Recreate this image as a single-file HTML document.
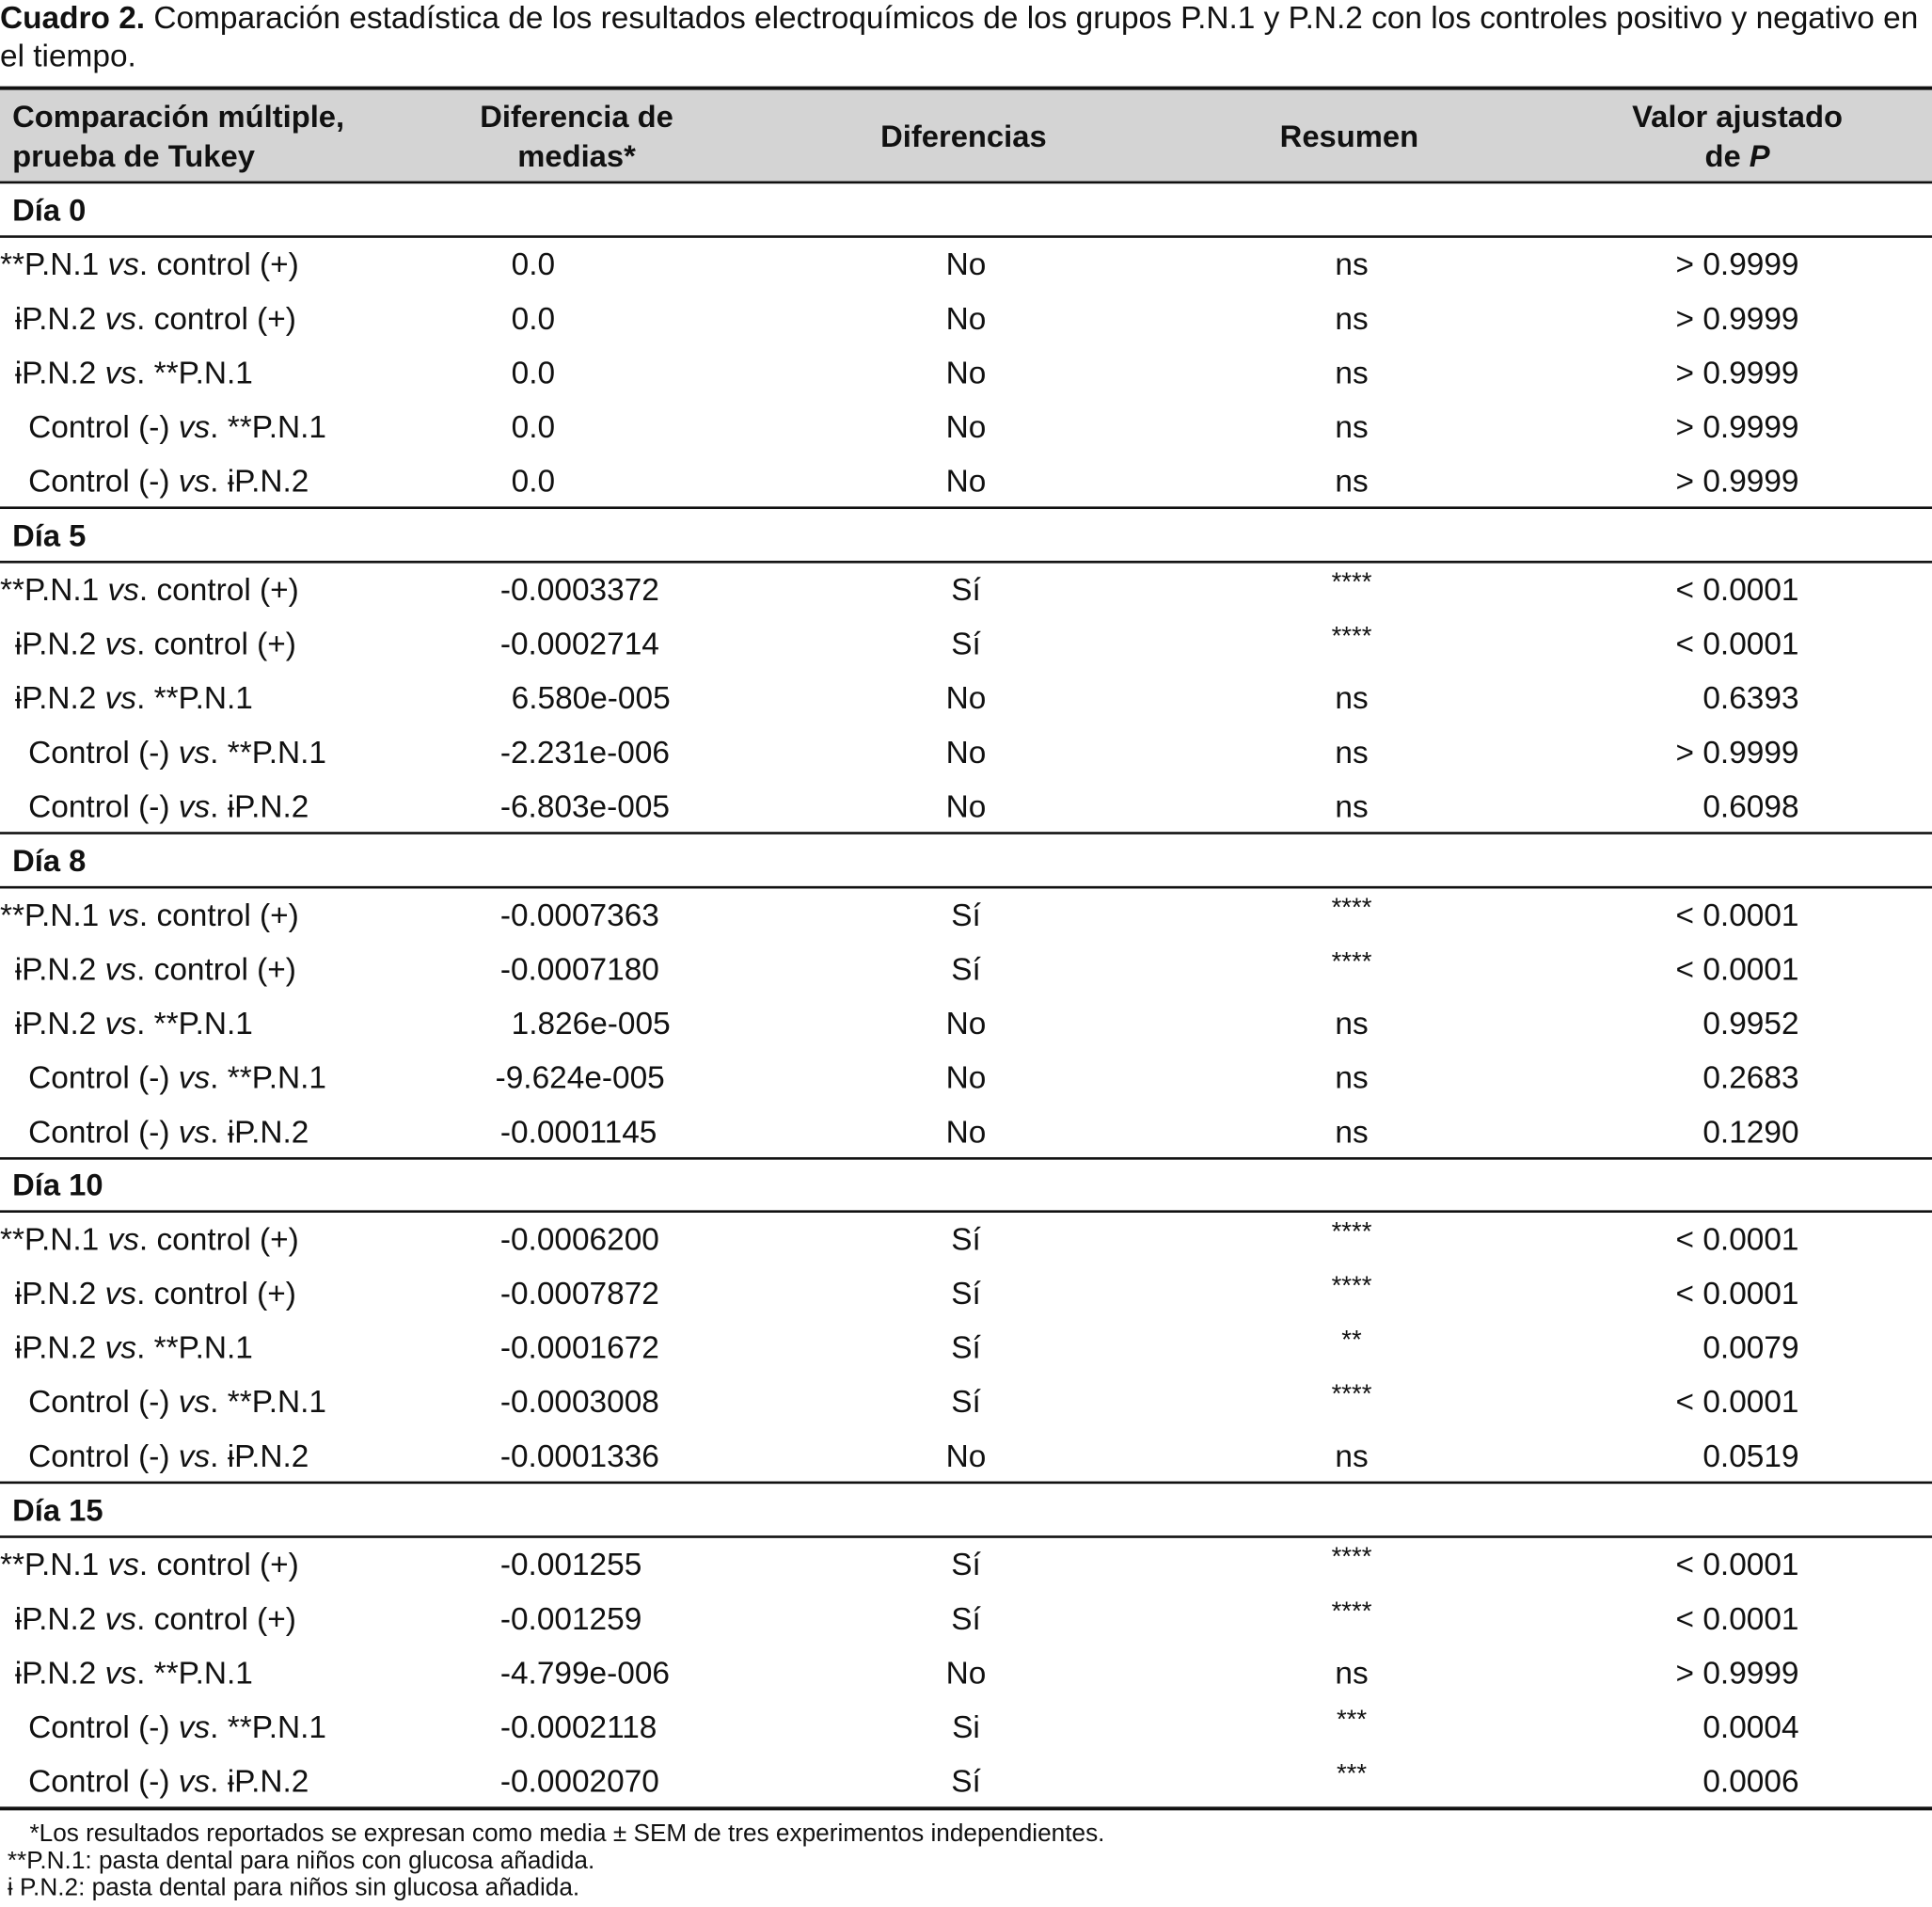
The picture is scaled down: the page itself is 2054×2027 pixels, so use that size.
<!DOCTYPE html>
<html><head><meta charset="utf-8"><style>
html,body{margin:0;padding:0;background:#fff;}
body{width:2054px;height:2026px;overflow:hidden;position:relative;}
#w{position:absolute;left:0;top:0;width:1568px;height:1547px;transform:scale(1.30995);transform-origin:0 0;font-family:"Liberation Sans",Arial,sans-serif;font-size:25.5px;color:#111;}
.t{position:absolute;line-height:30px;white-space:nowrap;}
.c{transform:translateX(-50%);text-align:center;}
.r{transform:translateX(-100%);}
.b{font-weight:bold;font-size:25px;}
.ln{position:absolute;left:0;width:1568px;background:#111;}
.f{font-size:20px;line-height:26px;}
</style></head><body><div id="w">
<div class="t" style="left:0;top:0px;font-size:25.5px"><b>Cuadro 2.</b> Comparación estadística de los resultados electroquímicos de los grupos P.N.1 y P.N.2 con los controles positivo y negativo en</div>
<div class="t" style="left:0;top:31px">el tiempo.</div>
<div style="position:absolute;left:0;top:72px;width:1568px;height:76px;background:#d4d4d4"></div>
<div class="ln" style="top:70px;height:3px"></div>
<div class="ln" style="top:147px;height:2px"></div>
<div class="t b" style="left:10px;top:80px">Comparación múltiple,</div>
<div class="t b" style="left:10px;top:112px">prueba de Tukey</div>
<div class="t b c" style="left:468px;top:80px">Diferencia de</div>
<div class="t b c" style="left:468px;top:112px">medias*</div>
<div class="t b c" style="left:782px;top:96px">Diferencias</div>
<div class="t b c" style="left:1095px;top:96px">Resumen</div>
<div class="t b c" style="left:1410px;top:80px">Valor ajustado</div>
<div class="t b c" style="left:1410px;top:112px">de <i>P</i></div>
<div id="rows"></div>
<div class="ln" style="top:1466px;height:3px"></div>
<div class="t f" style="left:24px;top:1475px">*Los resultados reportados se expresan como media ± SEM de tres experimentos independientes.</div>
<div class="t f" style="left:6px;top:1497px">**P.N.1: pasta dental para niños con glucosa añadida.</div>
<div class="t f" style="left:6px;top:1519px">ɨ P.N.2: pasta dental para niños sin glucosa añadida.</div>
</div>
<script>
var L=[["**P.N.1 <i>vs</i>. control (+)",0],["ɨP.N.2 <i>vs</i>. control (+)",12],["ɨP.N.2 <i>vs</i>. **P.N.1",12],["Control (-) <i>vs</i>. **P.N.1",23],["Control (-) <i>vs</i>. ɨP.N.2",23]];
var D=[["Día 0",171,[["0.0","No","ns","&gt; 0.9999"],["0.0","No","ns","&gt; 0.9999"],["0.0","No","ns","&gt; 0.9999"],["0.0","No","ns","&gt; 0.9999"],["0.0","No","ns","&gt; 0.9999"]]],
["Día 5",435,[["-0.0003372","Sí","****","&lt; 0.0001"],["-0.0002714","Sí","****","&lt; 0.0001"],["6.580e-005","No","ns","0.6393"],["-2.231e-006","No","ns","&gt; 0.9999"],["-6.803e-005","No","ns","0.6098"]]],
["Día 8",699,[["-0.0007363","Sí","****","&lt; 0.0001"],["-0.0007180","Sí","****","&lt; 0.0001"],["1.826e-005","No","ns","0.9952"],["-9.624e-005","No","ns","0.2683"],["-0.0001145","No","ns","0.1290"]]],
["Día 10",962,[["-0.0006200","Sí","****","&lt; 0.0001"],["-0.0007872","Sí","****","&lt; 0.0001"],["-0.0001672","Sí","**","0.0079"],["-0.0003008","Sí","****","&lt; 0.0001"],["-0.0001336","No","ns","0.0519"]]],
["Día 15",1226,[["-0.001255","Sí","****","&lt; 0.0001"],["-0.001259","Sí","****","&lt; 0.0001"],["-4.799e-006","No","ns","&gt; 0.9999"],["-0.0002118","Si","***","0.0004"],["-0.0002070","Sí","***","0.0006"]]]];
var h="";
D.forEach(function(d,k){var y=d[1];
h+='<div class="t b" style="left:10px;top:'+(y-15)+'px">'+d[0]+'</div>';
h+='<div class="ln" style="top:'+(y+20)+'px;height:2px"></div>';
if(k<4)h+='<div class="ln" style="top:'+(y+240)+'px;height:2px"></div>';
d[2].forEach(function(r,i){var ry=y+44+i*44-15;
h+='<div class="t" style="left:'+L[i][1]+'px;top:'+ry+'px">'+L[i][0]+'</div>';
var x=r[0].charAt(0)=="-"?406:415; if(r[0]=="-9.624e-005")x=402;
h+='<div class="t" style="left:'+x+'px;top:'+ry+'px">'+r[0]+'</div>';
h+='<div class="t c" style="left:784px;top:'+ry+'px">'+r[1]+'</div>';
var st=r[2].indexOf("*")>=0;
h+='<div class="t c" style="left:1097px;top:'+(st?ry-6:ry)+'px;'+(st?'font-size:21px':'')+'">'+r[2]+'</div>';
h+='<div class="t r" style="left:1460px;top:'+ry+'px">'+r[3]+'</div>';
});});
document.getElementById("rows").innerHTML=h;
</script>
</body></html>
